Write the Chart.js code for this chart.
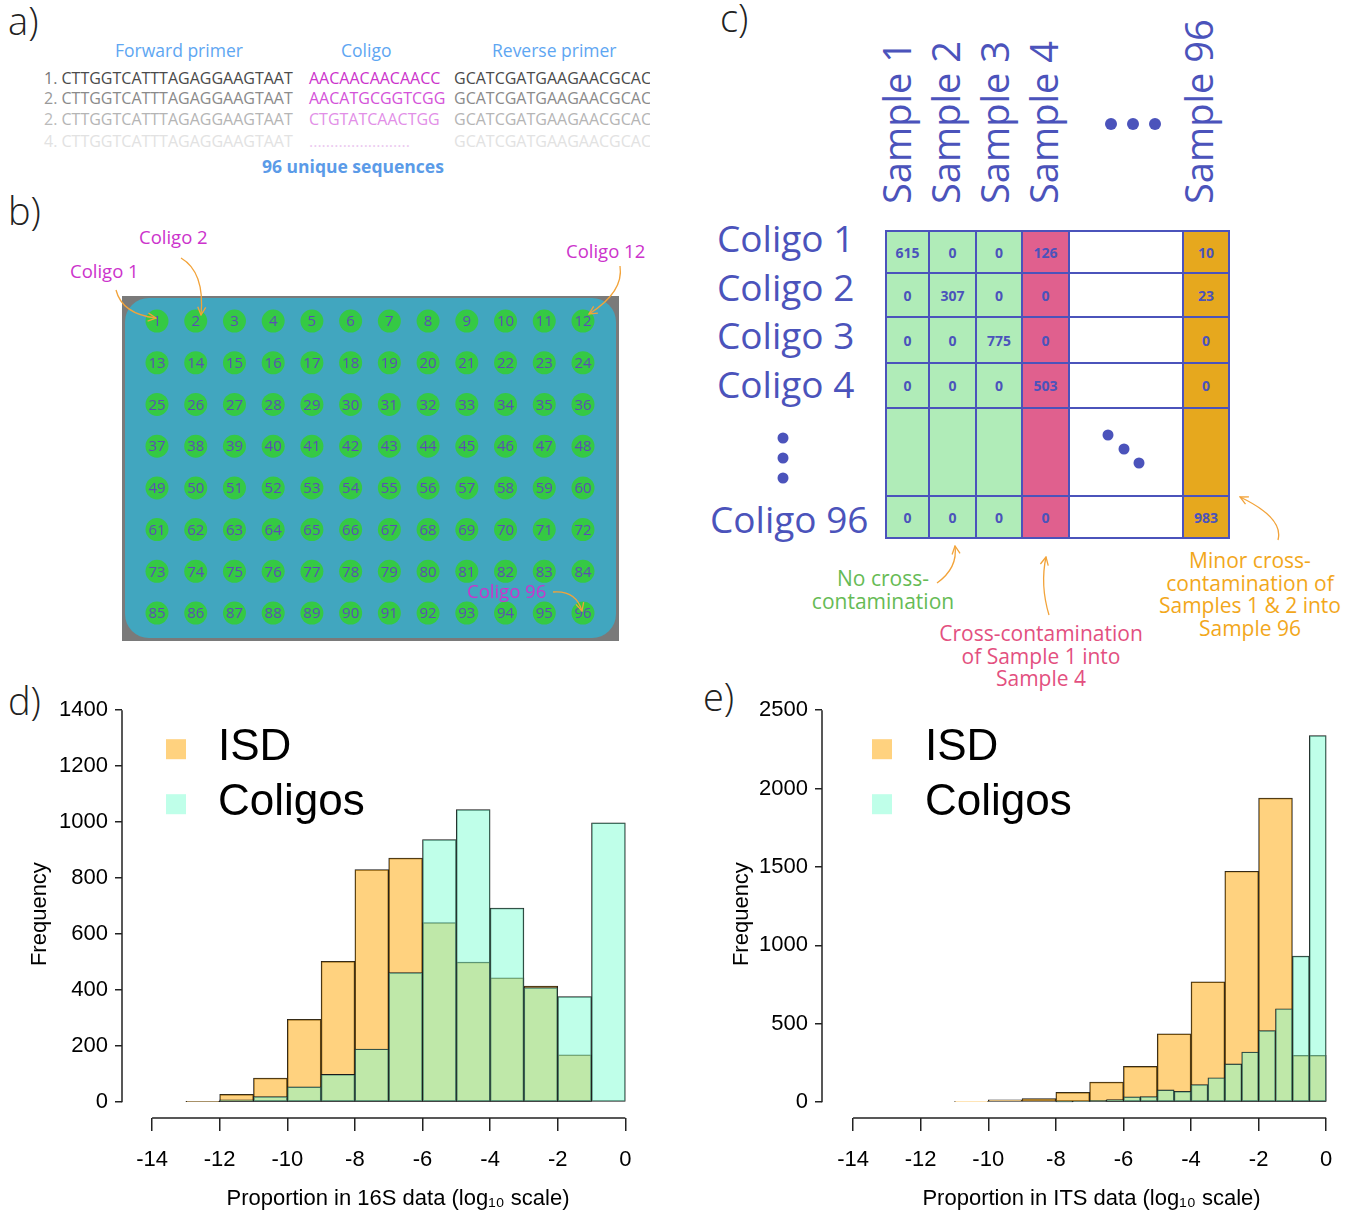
<!DOCTYPE html>
<html>
<head>
<meta charset="utf-8">
<title>Coligos cross-contamination</title>
<script src="https://cdn.jsdelivr.net/npm/chart.js"></script>
<style>
  body { margin: 0; background: #fff; }
  #page { position: relative; width: 1361px; height: 1214px; overflow: hidden; font-family: 'Open Sans', sans-serif; }
  .t { position: absolute; white-space: nowrap; line-height: 1; }
  .lbl { font-size: 38px; color: #222; font-weight: 300; }
  .hdr { font-size: 17.5px; color: #5ea6f2; line-height: 20px; }
  .seq { font-size: 16px; line-height: 20px; }
  .tag { font-size: 18.5px; color: #cc33cc; line-height: 20px; }
  .col-h { font-size: 38px; color: #4b53bb; transform-origin: 0 0; transform: rotate(-90deg); }
  .row-h { font-size: 37px; color: #4b53bb; }
  .note { position: absolute; width: 300px; text-align: center; font-size: 21px; line-height: 22.7px; white-space: nowrap; }
  #plate { position: absolute; left: 122px; top: 296px; width: 497px; height: 345px; background: #7a7a7a; }
  #plate .inner { position: absolute; left: 3px; top: 2px; right: 3px; bottom: 3px; background: #41a6bf; border-radius: 24px; }
  #grid { position: absolute; left: 885px; top: 230px; display: grid;
    grid-template-columns: 41px 45px 44px 45px 112px 44px;
    grid-template-rows: 40px 42px 44px 43px 86px 40px;
    gap: 2px; padding: 2px; background: #4b53bb; }
  #grid div { display: flex; align-items: center; justify-content: center; font-weight: 700; font-size: 14px; color: #4b53bb; }
  canvas { position: absolute; }
  svg { position: absolute; left: 0; top: 0; }
</style>
</head>
<body>
<div id="page">

  <!-- a) -->
  <div class="t lbl" style="left:8px;top:1px">a)</div>
  <div class="t hdr" style="left:115px;top:40px">Forward primer</div>
  <div class="t hdr" style="left:341px;top:40px">Coligo</div>
  <div class="t hdr" style="left:492px;top:40px">Reverse primer</div>
  <div id="seqs"></div>
  <div class="t" style="left:262px;top:156px;font-size:17.5px;font-weight:700;color:#5b9be8;line-height:20px">96 unique sequences</div>

  <!-- b) -->
  <div class="t lbl" style="left:8px;top:191px">b)</div>
  <div id="plate"><div class="inner"></div></div>
  <canvas id="plateChart" width="497" height="345" style="left:122px;top:296px"></canvas>
  <div class="t tag" style="left:70px;top:261px">Coligo 1</div>
  <div class="t tag" style="left:139px;top:227px">Coligo 2</div>
  <div class="t tag" style="left:566px;top:241px">Coligo 12</div>
  <div class="t tag" style="left:467px;top:581px">Coligo 96</div>

  <!-- c) -->
  <div class="t lbl" style="left:720px;top:-2px">c)</div>
  <div id="colHeads"></div>
  <div id="rowHeads"></div>
  <div id="grid"></div>
  <div class="note" style="left:733px;top:567px;color:#66bb55">No cross-<br>contamination</div>
  <div class="note" style="left:891px;top:622px;color:#e3507f">Cross-contamination<br>of Sample 1 into<br>Sample 4</div>
  <div class="note" style="left:1100px;top:549px;color:#f2a71b">Minor cross-<br>contamination of<br>Samples 1 &amp; 2 into<br>Sample 96</div>

  <!-- d) e) -->
  <div class="t lbl" style="left:8px;top:681px">d)</div>
  <div class="t lbl" style="left:703px;top:677px">e)</div>
  <canvas id="hist16S" width="680" height="524" style="left:0;top:690px"></canvas>
  <canvas id="histITS" width="661" height="524" style="left:700px;top:690px"></canvas>

  <svg width="1361" height="1214">
    <defs>
      <marker id="ah" viewBox="0 0 10 10" refX="9" refY="5" markerWidth="10" markerHeight="10" orient="auto" markerUnits="userSpaceOnUse">
        <path d="M1,1 L9,5 L1,9" fill="none" stroke="#f2a33a" stroke-width="1.3"/>
      </marker>
    </defs>
    <g fill="none" stroke="#f2a33a" stroke-width="1.3" marker-end="url(#ah)">
      <path d="M116,290 Q122,314 156,318"/>
      <path d="M181,258 Q205,272 201,315"/>
      <path d="M620,266 Q624,292 589,314"/>
      <path d="M553,592 Q576,590 582,611"/>
      <path d="M937,583 Q958,568 955,546"/>
      <path d="M1049,615 Q1040,585 1046,557"/>
      <path d="M1278,540 Q1284,518 1240,497"/>
    </g>
    <g fill="#4b53bb">
      <circle cx="1111" cy="124" r="6"/><circle cx="1133" cy="124" r="6"/><circle cx="1155" cy="124" r="6"/>
      <circle cx="783" cy="438" r="5.5"/><circle cx="783" cy="458" r="5.5"/><circle cx="783" cy="478" r="5.5"/>
      <circle cx="1108" cy="435" r="5.5"/><circle cx="1124" cy="449" r="5.5"/><circle cx="1139" cy="463" r="5.5"/>
    </g>
  </svg>
</div>

<script>
// ---------- data ----------
// a) example sequences
const seqForward = ['CTTGGTCATTTAGAGGAAGTAAT', 'CTTGGTCATTTAGAGGAAGTAAT', 'CTTGGTCATTTAGAGGAAGTAAT', 'CTTGGTCATTTAGAGGAAGTAAT'];
const seqColigo = ['AACAACAACAACC', 'AACATGCGGTCGG', 'CTGTATCAACTGG', '........................'];
const seqReverse = ['GCATCGATGAAGAACGCAC', 'GCATCGATGAAGAACGCAC', 'GCATCGATGAAGAACGCAC', 'GCATCGATGAAGAACGCAC'];
const seqNumbers = ['1.', '2.', '2.', '4.'];

// b) 96-well plate
const plateRows = [1, 2, 3, 4, 5, 6, 7, 8];
const plateCols = [1, 2, 3, 4, 5, 6, 7, 8, 9, 10, 11, 12];

// c) read counts per coligo (rows) and sample (columns)
const sampleLabels = ['Sample 1', 'Sample 2', 'Sample 3', 'Sample 4', '', 'Sample 96'];
const coligoLabels = ['Coligo 1', 'Coligo 2', 'Coligo 3', 'Coligo 4', '', 'Coligo 96'];
const cellCounts = [
  [615, 0, 0, 126, null, 10],
  [0, 307, 0, 0, null, 23],
  [0, 0, 775, 0, null, 0],
  [0, 0, 0, 503, null, 0],
  [null, null, null, null, null, null],
  [0, 0, 0, 0, null, 983]
];

// d) 16S: frequency per log10 bin (bin mid-points)
const isdMids16S = [-12.5, -11.5, -10.5, -9.5, -8.5, -7.5, -6.5, -5.5, -4.5, -3.5, -2.5, -1.5, -0.5];
const isdFreq16S = [2, 28, 86, 296, 503, 831, 872, 641, 500, 444, 415, 169, 0];
const coligoMids16S = [-11.5, -10.5, -9.5, -8.5, -7.5, -6.5, -5.5, -4.5, -3.5, -2.5, -1.5, -0.5];
const coligoFreq16S = [8, 20, 55, 99, 190, 463, 938, 1045, 693, 409, 377, 998];

// e) ITS
const isdMidsITS = [-10.5, -9.5, -8.5, -7.5, -6.5, -5.5, -4.5, -3.5, -2.5, -1.5, -0.5];
const isdFreqITS = [5, 15, 23, 63, 128, 229, 436, 768, 1473, 1940, 299];
const coligoMidsITS = [-7.75, -7.25, -6.75, -6.25, -5.75, -5.25, -4.75, -4.25, -3.75, -3.25, -2.75, -2.25, -1.75, -1.25, -0.75, -0.25, 0.25];
const coligoFreqITS = [1, 4, 11, 17, 34, 36, 78, 69, 112, 156, 244, 320, 457, 596, 932, 2338, 0];

const xTicks = [-14, -12, -10, -8, -6, -4, -2, 0];
const yTicks16S = [0, 200, 400, 600, 800, 1000, 1200, 1400];
const yTicksITS = [0, 500, 1000, 1500, 2000, 2500];

// ---------- a) sequence lines ----------
const seqShades = [
  { num: '#777', seq: '#4a4a4a', col: '#cc33cc' },
  { num: '#999', seq: '#8a8a8a', col: '#d452d9' },
  { num: '#bbb', seq: '#b5b5b5', col: '#e28fe7' },
  { num: '#e2e2e2', seq: '#e2e2e2', col: '#eccaf0' }
];
const seqTops = [68, 88, 109, 131];
const seqBox = document.getElementById('seqs');
seqForward.forEach((s, i) => {
  const c = seqShades[i];
  seqBox.innerHTML +=
    `<div class="t seq" style="left:44px;top:${seqTops[i]}px"><span style="color:${c.num}">${seqNumbers[i]}</span> <span style="color:${c.seq}">${s}</span></div>` +
    `<div class="t seq" style="left:309px;top:${seqTops[i]}px;color:${c.col}">${seqColigo[i]}</div>` +
    `<div class="t seq" style="left:454px;top:${seqTops[i]}px;width:196px;overflow:hidden;color:${c.seq}">${seqReverse[i]}</div>`;
});

// ---------- c) table ----------
const colFills = ['#b0ecb8', '#b0ecb8', '#b0ecb8', '#e0608e', '#ffffff', '#e6a81e'];
const grid = document.getElementById('grid');
cellCounts.forEach(row => row.forEach((v, j) => {
  const d = document.createElement('div');
  d.style.background = colFills[j];
  d.textContent = v === null ? '' : v;
  grid.appendChild(d);
}));
const colBase = [911, 960, 1009, 1058, null, 1213];
const colHeads = document.getElementById('colHeads');
sampleLabels.forEach((s, j) => {
  if (!s) return;
  colHeads.innerHTML += `<div class="t col-h" style="left:${colBase[j] - 34}px;top:204px">${s}</div>`;
});
const rowTops = [219, 268, 316, 365, null, 500];
const rowHeads = document.getElementById('rowHeads');
coligoLabels.forEach((s, i) => {
  if (!s) return;
  rowHeads.innerHTML += `<div class="t row-h" style="left:${i === 5 ? 710 : 717}px;top:${rowTops[i]}px">${s}</div>`;
});

// ---------- b) plate as a scatter chart ----------
const wells = [];
plateRows.forEach(r => plateCols.forEach(c => wells.push({ x: c, y: r, n: (r - 1) * 12 + c })));

const wellNumbers = {
  id: 'wellNumbers',
  afterDatasetsDraw(chart) {
    const ctx = chart.ctx;
    ctx.save();
    ctx.font = '15px "Open Sans"';
    ctx.fillStyle = '#5a4db5';
    ctx.textAlign = 'center';
    ctx.textBaseline = 'middle';
    chart.getDatasetMeta(0).data.forEach((pt, i) => ctx.fillText(wells[i].n, pt.x, pt.y + 1));
    ctx.restore();
  }
};

new Chart(document.getElementById('plateChart'), {
  type: 'scatter',
  data: { datasets: [{ data: wells, pointRadius: 11.5, backgroundColor: '#35c944', borderWidth: 0 }] },
  options: {
    responsive: false, animation: false,
    layout: { padding: 0, autoPadding: false },
    plugins: { legend: { display: false }, tooltip: { enabled: false } },
    scales: {
      x: { type: 'linear', min: 0.096, max: 12.93, display: false },
      y: { type: 'linear', min: 0.40, max: 8.67, reverse: true, display: false }
    }
  },
  plugins: [wellNumbers]
});

// ---------- d) e) histograms ----------
Chart.defaults.font.family = '"Liberation Sans", Arial, sans-serif';
Chart.defaults.color = '#000';

const axisLines = {
  id: 'axisLines',
  afterDraw(chart) {
    const { ctx } = chart;
    const x = chart.scales.x, y = chart.scales.y;
    ctx.save();
    ctx.strokeStyle = '#222';
    ctx.lineWidth = 1.5;
    ctx.beginPath();
    ctx.moveTo(x.getPixelForValue(x.ticks[0].value), x.top);
    ctx.lineTo(x.getPixelForValue(x.ticks[x.ticks.length - 1].value), x.top);
    ctx.moveTo(y.right, y.getPixelForValue(y.ticks[0].value));
    ctx.lineTo(y.right, y.getPixelForValue(y.ticks[y.ticks.length - 1].value));
    ctx.stroke();
    ctx.restore();
  }
};

const insideLegend = {
  id: 'insideLegend',
  afterDatasetsDraw(chart, args, opts) {
    const { ctx, chartArea } = chart;
    ctx.save();
    ctx.font = '44px "Liberation Sans", Arial, sans-serif';
    ctx.textBaseline = 'middle';
    chart.data.datasets.forEach((ds, i) => {
      const cy = chartArea.top + opts.top + i * opts.gap;
      ctx.fillStyle = ds.backgroundColor;
      ctx.fillRect(chartArea.left + opts.box, cy - 10, 20, 20);
      ctx.fillStyle = '#000';
      ctx.fillText(ds.label, chartArea.left + opts.text, cy - 1);
    });
    ctx.restore();
  }
};

function histogram(id, isdX, isdY, colX, colY, yTicks, xMin, xMax, yMin, xTitle, legendPos, titlePad, padRight) {
  const setTicks = list => scale => { scale.ticks = list.map(v => ({ value: v })); };
  return new Chart(document.getElementById(id), {
    type: 'bar',
    data: {
      datasets: [
        { label: 'ISD', data: isdX.map((x, i) => ({ x, y: isdY[i] })), xAxisID: 'x',
          backgroundColor: 'rgba(255,165,0,0.5)', order: 2 },
        { label: 'Coligos', data: colX.map((x, i) => ({ x, y: colY[i] })), xAxisID: 'x2',
          backgroundColor: 'rgba(127,255,212,0.5)', order: 1 }
      ]
    },
    options: {
      responsive: false, animation: false,
      layout: { padding: { top: 16, right: padRight, left: 0, bottom: 0 } },
      datasets: { bar: { grouped: false, barPercentage: 1, categoryPercentage: 1, borderWidth: 0.8, borderColor: '#1a1a1a', borderSkipped: false } },
      plugins: { legend: { display: false }, tooltip: { enabled: false }, insideLegend: legendPos },
      scales: {
        x: {
          type: 'linear', min: xMin, max: xMax, offset: false,
          afterBuildTicks: setTicks(xTicks),
          afterFit: s => { s.height = 96; },
          grid: { drawOnChartArea: false, offset: false, tickLength: 13, color: '#222', lineWidth: 1.5 },
          border: { display: false },
          ticks: { font: { size: 22 }, padding: 16, maxRotation: 0, callback: v => String(v) },
          title: { display: true, text: xTitle, font: { size: 22 }, padding: { top: 0, bottom: 2 } }
        },
        x2: { type: 'linear', min: xMin, max: xMax, offset: false, display: false, afterBuildTicks: setTicks(xTicks) },
        y: {
          min: yMin, max: yTicks[yTicks.length - 1],
          afterBuildTicks: setTicks(yTicks),
          afterFit: s => { s.width = 122; },
          grid: { drawOnChartArea: false, tickLength: 7, color: '#222', lineWidth: 1.5 },
          border: { display: false },
          ticks: { font: { size: 22 }, padding: 7, callback: v => String(v) },
          title: { display: true, text: 'Frequency', font: { size: 22 }, padding: { top: titlePad, bottom: 0 } }
        }
      }
    },
    plugins: [axisLines, insideLegend]
  });
}

histogram('hist16S', isdMids16S, isdFreq16S, coligoMids16S, coligoFreq16S, yTicks16S,
  -14.89, 1.44, -56.6, 'Proportion in 16S data (log\u2081\u2080 scale)', { box: 44, text: 96, top: 39, gap: 55 }, 27, 6);
histogram('histITS', isdMidsITS, isdFreqITS, coligoMidsITS, coligoFreqITS, yTicksITS,
  -14.92, 1.03, -101, 'Proportion in ITS data (log\u2081\u2080 scale)', { box: 50, text: 103, top: 39, gap: 55 }, 29, 0);
</script>
</body>
</html>
